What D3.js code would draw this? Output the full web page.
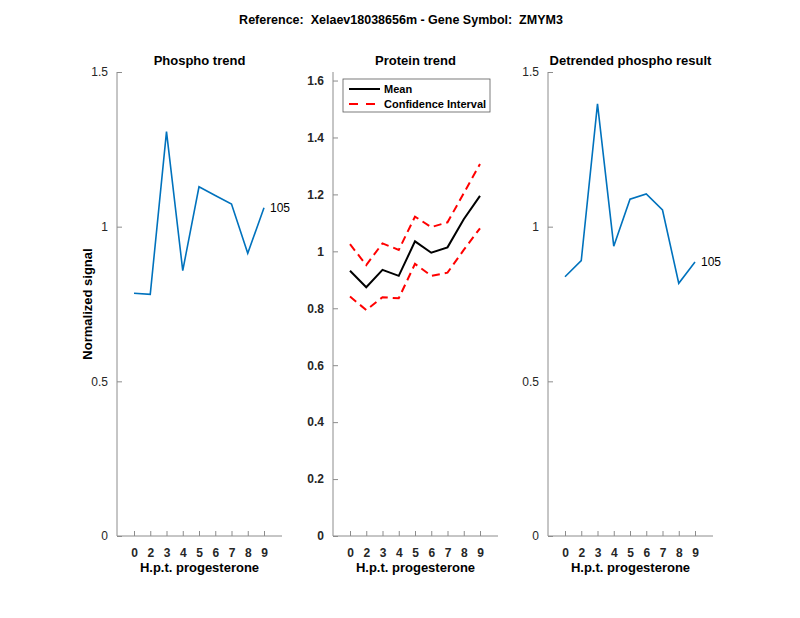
<!DOCTYPE html>
<html>
<head>
<meta charset="utf-8">
<script src="https://d3js.org/d3.v7.min.js"></script>
<style>
  body { margin: 0; background: #fff; }
  text { font-family: "Liberation Sans", Arial, sans-serif; white-space: pre; }
</style>
</head>
<body>
<div id="vis"></div>
<script>
// data
const hours = ["0", "2", "3", "4", "5", "6", "7", "8", "9"];
const phospho = [0.785, 0.781, 1.307, 0.858, 1.129, 1.101, 1.073, 0.914, 1.061];
const proteinMean = [0.932, 0.874, 0.935, 0.914, 1.035, 0.995, 1.014, 1.113, 1.195];
const proteinUpper = [1.025, 0.952, 1.028, 1.005, 1.122, 1.085, 1.102, 1.204, 1.307];
const proteinLower = [0.841, 0.794, 0.839, 0.835, 0.956, 0.914, 0.925, 1.005, 1.081];
const detrended = [0.838, 0.890, 1.397, 0.937, 1.089, 1.106, 1.054, 0.817, 0.886];
const peptideLabel = "105";
const phosphoTicks = [0, 0.5, 1, 1.5];
const proteinTicks = [0, 0.2, 0.4, 0.6, 0.8, 1, 1.2, 1.4, 1.6];

const svg = d3.select("#vis")
  .append("svg")
  .attr("width", 800)
  .attr("height", 618);

const plotTop = 72, plotBottom = 536;
const panelW = 165;
const axisGray = "#8c8c8c";

svg.append("text")
  .attr("x", 401)
  .attr("y", 24)
  .attr("text-anchor", "middle")
  .attr("font-size", "12.5px")
  .attr("font-weight", "bold")
  .text("Reference:  Xelaev18038656m - Gene Symbol:  ZMYM3");

function makePanel(left, title, yMax, yTicks, tickBold) {
  const g = svg.append("g").attr("transform", `translate(${left},0)`);
  const x = d3.scalePoint().domain(hours).range([17, 147]);
  const y = d3.scaleLinear().domain([0, yMax]).range([plotBottom, plotTop]);

  // x axis (ticks inward)
  const xa = g.append("g")
    .attr("transform", `translate(0,${plotBottom})`)
    .call(d3.axisBottom(x).tickSizeInner(-5).tickSizeOuter(0).tickPadding(12));
  xa.select(".domain").attr("d", `M0,0H${panelW}`).attr("stroke", axisGray);
  xa.selectAll(".tick line").attr("stroke", axisGray);
  xa.selectAll(".tick text")
    .attr("font-size", "12px").attr("font-weight", "bold")
    .attr("fill", "#262626").attr("font-family", "Liberation Sans, Arial, sans-serif");

  // y axis
  const ya = g.append("g")
    .call(d3.axisLeft(y).tickValues(yTicks).tickFormat(d3.format("~g"))
      .tickSizeInner(-5).tickSizeOuter(0).tickPadding(9));
  ya.select(".domain").attr("d", `M0,${plotBottom}V${plotTop}`).attr("stroke", axisGray);
  ya.selectAll(".tick line").attr("stroke", axisGray);
  ya.selectAll(".tick text")
    .attr("font-size", "12px").attr("font-weight", tickBold ? "bold" : "normal")
    .attr("fill", "#262626").attr("font-family", "Liberation Sans, Arial, sans-serif");

  g.append("text")
    .attr("x", panelW / 2)
    .attr("y", 65)
    .attr("text-anchor", "middle")
    .attr("font-size", "13px")
    .attr("font-weight", "bold")
    .text(title);

  g.append("text")
    .attr("x", panelW / 2)
    .attr("y", 572)
    .attr("text-anchor", "middle")
    .attr("font-size", "13px")
    .attr("font-weight", "bold")
    .text("H.p.t. progesterone");

  return { g, x, y };
}

// Phospho trend
const p1 = makePanel(117, "Phospho trend", 1.5, phosphoTicks, false);
p1.g.append("path")
  .datum(phospho)
  .attr("fill", "none")
  .attr("stroke", "#0072BD")
  .attr("stroke-width", 1.6)
  .attr("d", d3.line().x((d, i) => p1.x(hours[i])).y(d => p1.y(d)));
p1.g.append("text")
  .attr("x", p1.x("9") + 6)
  .attr("y", p1.y(phospho[8]) + 4)
  .attr("font-size", "12px")
  .text(peptideLabel);

svg.append("text")
  .attr("transform", "rotate(-90)")
  .attr("x", -304)
  .attr("y", 92)
  .attr("text-anchor", "middle")
  .attr("font-size", "13px")
  .attr("font-weight", "bold")
  .text("Normalized signal");

// Protein trend
const p2 = makePanel(333, "Protein trend", 1.63, proteinTicks, true);
const line2 = d3.line().x((d, i) => p2.x(hours[i])).y(d => p2.y(d));
[proteinUpper, proteinLower].forEach(s => {
  p2.g.append("path")
    .datum(s)
    .attr("fill", "none")
    .attr("stroke", "#ff0000")
    .attr("stroke-width", 2)
    .attr("stroke-dasharray", "8,5")
    .attr("d", line2);
});
p2.g.append("path")
  .datum(proteinMean)
  .attr("fill", "none")
  .attr("stroke", "#000")
  .attr("stroke-width", 2)
  .attr("d", line2);

// legend
const legend = p2.g.append("g").attr("transform", `translate(10,${plotTop + 7})`);
legend.append("rect")
  .attr("width", 147).attr("height", 33)
  .attr("fill", "#fff").attr("stroke", "#5a5a5a").attr("stroke-width", 0.8);
const legendItems = [
  { name: "Mean", color: "#000", dash: null },
  { name: "Confidence Interval", color: "#ff0000", dash: "9,8" }
];
legendItems.forEach((it, i) => {
  const row = legend.append("g").attr("transform", `translate(0,${10 + i * 15})`);
  row.append("line")
    .attr("x1", 6).attr("x2", 37)
    .attr("stroke", it.color).attr("stroke-width", 2)
    .attr("stroke-dasharray", it.dash);
  row.append("text")
    .attr("x", 41).attr("y", 4)
    .attr("font-size", "11px").attr("font-weight", "bold")
    .text(it.name);
});

// Detrended phospho
const p3 = makePanel(548, "Detrended phospho result", 1.5, phosphoTicks, false);
p3.g.append("path")
  .datum(detrended)
  .attr("fill", "none")
  .attr("stroke", "#0072BD")
  .attr("stroke-width", 1.6)
  .attr("d", d3.line().x((d, i) => p3.x(hours[i])).y(d => p3.y(d)));
p3.g.append("text")
  .attr("x", p3.x("9") + 6)
  .attr("y", p3.y(detrended[8]) + 4)
  .attr("font-size", "12px")
  .text(peptideLabel);
</script>
</body>
</html>
